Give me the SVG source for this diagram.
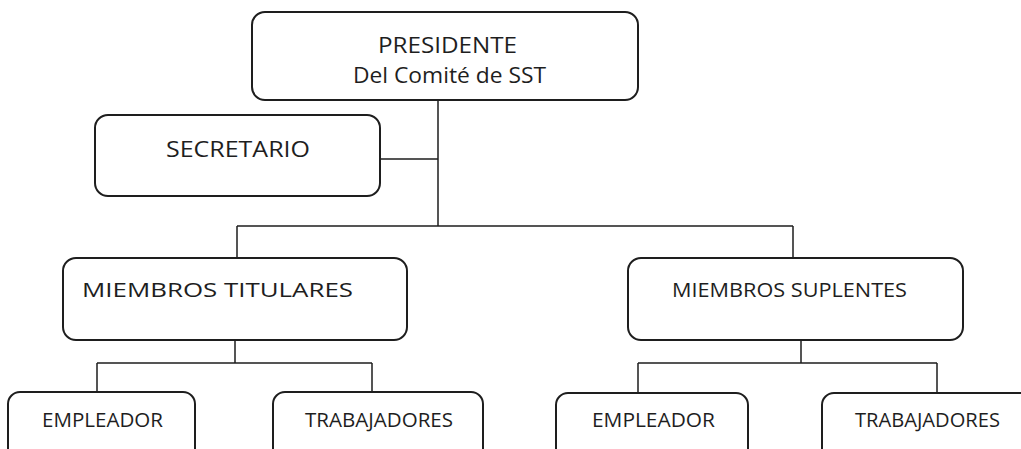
<svg xmlns="http://www.w3.org/2000/svg" width="1021" height="449" viewBox="0 0 1021 449">
<style>
.box{fill:#fff;stroke:#1e1e1e;stroke-width:2}
.ln{fill:none;stroke:#1e1e1e;stroke-width:1.5}
text{font-family:"Open Sans","Liberation Sans",sans-serif;fill:#1e1e1e}
.l{font-size:22px}
.m{font-size:20px}
.s{font-size:19.5px}
</style>
<rect width="1021" height="449" fill="#fff"/>
<g id="connectors">
<path class="ln" d="M438 100V226M380 159H438M237 226H793M237 226V258M793 226V258"/>
<path class="ln" d="M235 340V363M97 363H372M97 363V392M372 363V392"/>
<path class="ln" d="M801 340V363M638 363H937M638 363V393M937 363V393"/>
</g>
<g id="presidente">
<rect class="box" x="252" y="12" width="386" height="88" rx="13"/>
<text class="l" x="378" y="53" textLength="139" lengthAdjust="spacingAndGlyphs">PRESIDENTE</text>
<text class="l" x="353" y="83" textLength="193" lengthAdjust="spacingAndGlyphs">Del Comité de SST</text>
</g>
<g id="secretario">
<rect class="box" x="95" y="115" width="285" height="81" rx="13"/>
<text class="l" x="166" y="157" textLength="144" lengthAdjust="spacingAndGlyphs">SECRETARIO</text>
</g>
<g id="titulares">
<rect class="box" x="63" y="258" width="344" height="82" rx="13"/>
<text class="m" x="82" y="297" textLength="271" lengthAdjust="spacingAndGlyphs">MIEMBROS TITULARES</text>
</g>
<g id="suplentes">
<rect class="box" x="628" y="258" width="335" height="82" rx="13"/>
<text class="m" x="672" y="297" textLength="235" lengthAdjust="spacingAndGlyphs">MIEMBROS SUPLENTES</text>
</g>
<g id="empleador1">
<rect class="box" x="8" y="392" width="187" height="80" rx="12"/>
<text class="s" x="42" y="427" textLength="121" lengthAdjust="spacingAndGlyphs">EMPLEADOR</text>
</g>
<g id="trabajadores1">
<rect class="box" x="273" y="392" width="210" height="80" rx="12"/>
<text class="s" x="305" y="427" textLength="148" lengthAdjust="spacingAndGlyphs">TRABAJADORES</text>
</g>
<g id="empleador2">
<rect class="box" x="556" y="393" width="192" height="80" rx="12"/>
<text class="s" x="592" y="427" textLength="123" lengthAdjust="spacingAndGlyphs">EMPLEADOR</text>
</g>
<g id="trabajadores2">
<rect class="box" x="822" y="393" width="210" height="80" rx="12"/>
<text class="s" x="855" y="427" textLength="145" lengthAdjust="spacingAndGlyphs">TRABAJADORES</text>
</g>
</svg>
